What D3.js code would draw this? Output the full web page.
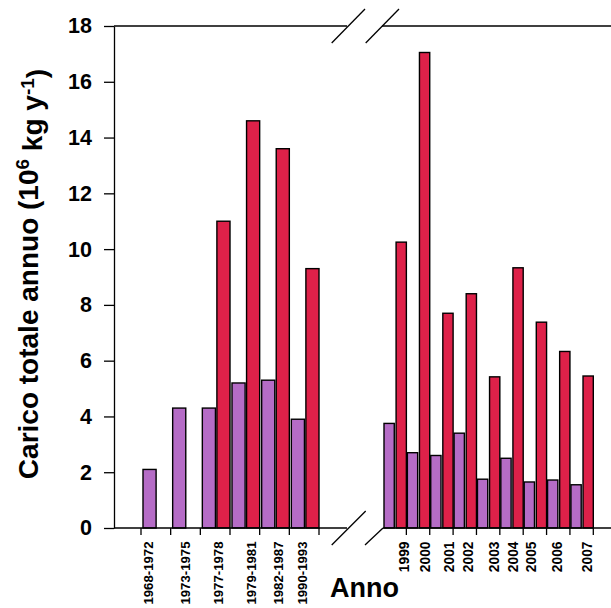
<!DOCTYPE html>
<html>
<head>
<meta charset="utf-8">
<script src="https://cdn.jsdelivr.net/npm/d3@7"></script>
<style>
  html, body { margin: 0; padding: 0; background: #fff; }
  svg { display: block; }
  text { font-family: "Liberation Sans", Arial, Helvetica, sans-serif; font-weight: bold; fill: #000; }
</style>
</head>
<body>
<svg id="chart" width="611" height="608"></svg>
<script>
// Periodi storici (pannello sinistro)
const periodi = ["1968-1972", "1973-1975", "1977-1978", "1979-1981", "1982-1987", "1990-1993"];
const periodiViola = [2.1, 4.3, 4.3, 5.2, 5.3, 3.9];
const periodiRosso = [null, null, 11.0, 14.6, 13.6, 9.3];

// Anni recenti (pannello destro)
const anni = ["1999", "2000", "2001", "2002", "2003", "2004", "2005", "2006", "2007"];
const anniViola = [3.75, 2.7, 2.6, 3.4, 1.75, 2.5, 1.65, 1.72, 1.55];
const anniRosso = [10.25, 17.05, 7.7, 8.4, 5.42, 9.33, 7.38, 6.33, 5.45];

// Asse y
const yTicks = [0, 2, 4, 6, 8, 10, 12, 14, 16, 18];

// Small horizontal shifts of the rotated category labels
const spostaPeriodi = [-7, 0, 3, 7, 4, -2];
const spostaAnni = [9, 7, 8, 3, 6, 2, -4, -1, 6];

const colori = { viola: "#B56CC6", rosso: "#DE2149" };

const svg = d3.select("#chart");
const W = 611;
const yTop = 26, yBottom = 528, xAxis = 114;

const y = d3.scaleLinear().domain([0, 18]).range([yBottom, yTop]);

// Two x panels separated by an axis break
const xL = d3.scaleBand().domain(periodi).range([141, 319]).padding(0);
const xR = d3.scaleBand().domain(anni).range([383, 593.3]).padding(0);
const serie = ["viola", "rosso"];
const innerL = d3.scaleBand().domain(serie).range([2, xL.bandwidth()]).paddingInner(0.1);
const innerR = d3.scaleBand().domain(serie).range([1, xR.bandwidth()]).paddingInner(0.15);

function panel(x, inner, cats, viola, rosso) {
  const rows = cats.map((c, i) => ({ c, viola: viola[i], rosso: rosso[i] }));
  const g = svg.append("g");
  rows.forEach(r => {
    serie.forEach(s => {
      if (r[s] == null) return;
      g.append("rect")
        .attr("x", x(r.c) + inner(s))
        .attr("y", y(r[s]))
        .attr("width", inner.bandwidth())
        .attr("height", y(0) - y(r[s]))
        .attr("fill", colori[s])
        .attr("stroke", "#000")
        .attr("stroke-width", 1.4);
    });
  });
}
panel(xL, innerL, periodi, periodiViola, periodiRosso);
panel(xR, innerR, anni, anniViola, anniRosso);

// Y axis
const yAxis = d3.axisLeft(y).tickValues(yTicks).tickSize(10).tickPadding(12).tickSizeOuter(0);
const gy = svg.append("g").attr("transform", `translate(${xAxis},0)`).call(yAxis);
gy.select(".domain").attr("stroke", "#000").attr("stroke-width", 1.3);
gy.selectAll(".tick line").attr("stroke", "#000").attr("stroke-width", 1.3);
gy.selectAll(".tick text").style("font-size", "21.5px").attr("fill", "#000")
  .style("font-family", "'Liberation Sans', Arial, sans-serif").style("font-weight", "bold");

// Frame lines (top and bottom) with break
const line = (x1, y1, x2, y2) => svg.append("line")
  .attr("x1", x1).attr("y1", y1).attr("x2", x2).attr("y2", y2)
  .attr("stroke", "#000").attr("stroke-width", 1.3);

const breakL = 347, breakR = 383;
line(xAxis, y(0), breakL, y(0));
line(breakR, y(0), W, y(0));
line(xAxis, y(18), breakL, y(18));
line(breakR - 1, y(18), W, y(18));

// Break marks
line(331.7, y(18) + 17, 365, y(18) - 17);
line(365.7, y(18) + 17, 399, y(18) - 17);
line(331.7, y(0) + 17, 365.7, y(0) - 17);
line(365, y(0) + 17, breakR, y(0));

// Category ticks at group edges
function edgeTicks(x, skipFirst) {
  const edges = x.domain().map(d => x(d)).concat([x.range()[1]]);
  edges.forEach((e, i) => {
    if (skipFirst && i === 0) return;
    line(e, y(0), e, y(0) + 7);
  });
}
edgeTicks(xL, false);
edgeTicks(xR, true);

// Rotated category labels
function catLabels(x, cats, shifts, size) {
  svg.append("g").selectAll("text").data(cats).join("text")
    .attr("transform", (d, i) => `translate(${x(d) + x.bandwidth() / 2 + shifts[i]},541.5) rotate(-90)`)
    .attr("text-anchor", "end")
    .attr("dy", "0.35em")
    .style("font-size", size + "px")
    .text(d => d);
}
catLabels(xL, periodi, spostaPeriodi, 13.2);
catLabels(xR, anni, spostaAnni, 13.8);

// Axis titles
svg.append("text").attr("x", 330).attr("y", 597).style("font-size", "27px").text("Anno");

const yt = svg.append("text")
  .attr("transform", "translate(38,274) rotate(-90)")
  .attr("text-anchor", "middle")
  .style("font-size", "28px");
yt.append("tspan").text("Carico totale annuo (10");
yt.append("tspan").attr("dy", "-0.45em").style("font-size", "19px").text("6");
yt.append("tspan").attr("dy", "0.45em").text(" kg y");
yt.append("tspan").attr("dy", "-0.45em").style("font-size", "19px").text("-1");
yt.append("tspan").attr("dy", "0.45em").text(")");
</script>
</body>
</html>
